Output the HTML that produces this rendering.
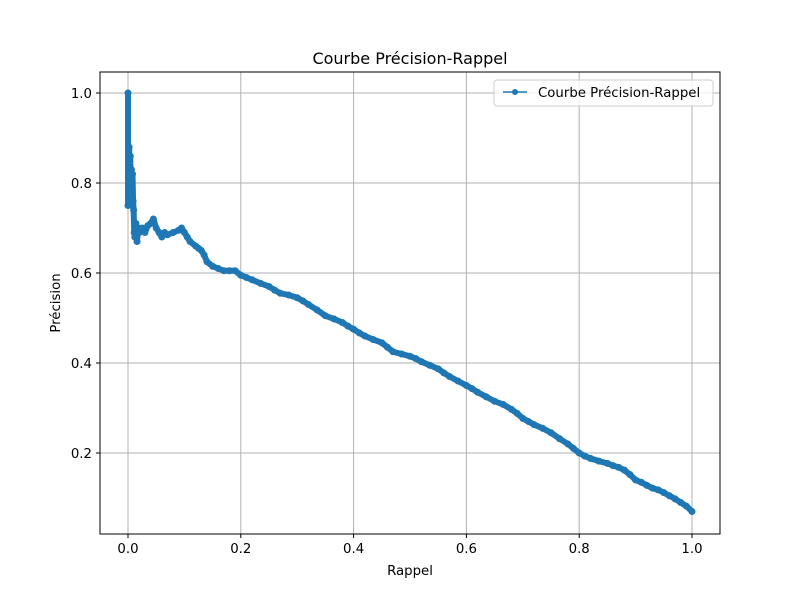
<!DOCTYPE html>
<html><head><meta charset="utf-8"><style>
body{margin:0;background:#fff;font-family:"Liberation Sans","DejaVu Sans",sans-serif}
text{font-family:"DejaVu Sans","Liberation Sans",sans-serif}
</style></head><body>
<svg id="chart" width="800" height="600" xmlns="http://www.w3.org/2000/svg">
<rect width="800" height="600" fill="#fff"/>
<g id="grid"></g><g id="ticks"></g><g id="series"></g>
<rect x="100" y="72" width="620" height="462" fill="none" stroke="#000" stroke-width="1"/>
<text x="410" y="64" font-size="16" text-anchor="middle">Courbe Précision-Rappel</text>
<text x="410" y="575" font-size="13.3" text-anchor="middle">Rappel</text>
<text x="0" y="0" font-size="13.3" text-anchor="middle" transform="translate(60,303) rotate(-90)">Précision</text>
<g>
<rect x="494" y="80" width="219" height="26" rx="3" fill="#fff" fill-opacity="0.8" stroke="#ccc"/>
<line x1="503" y1="92" x2="527" y2="92" stroke="#1f77b4" stroke-width="1.5"/>
<circle cx="515" cy="92" r="3" fill="#1f77b4"/>
<text x="538" y="97" font-size="13.3">Courbe Précision-Rappel</text>
</g>
</svg>
<script>
const recall=[0,0,0.002,0.003,0.004,0.005,0.006,0.007,0.008,0.009,0.01,0.011,0.012,0.014,0.016,0.018,0.02,0.025,0.03,0.035,0.04,0.045,0.05,0.055,0.06,0.065,0.07,0.08,0.09,0.095,0.1,0.105,0.11,0.12,0.125,0.13,0.135,0.14,0.15,0.16,0.17,0.18,0.19,0.2,0.21,0.22,0.235,0.25,0.26,0.27,0.285,0.3,0.31,0.32,0.335,0.35,0.365,0.38,0.39,0.4,0.41,0.42,0.435,0.45,0.46,0.47,0.485,0.5,0.51,0.52,0.535,0.55,0.56,0.57,0.585,0.6,0.61,0.62,0.635,0.65,0.665,0.68,0.69,0.7,0.71,0.72,0.735,0.75,0.765,0.78,0.79,0.8,0.81,0.82,0.835,0.85,0.86,0.87,0.88,0.89,0.9,0.91,0.92,0.93,0.94,0.95,0.96,0.97,0.98,0.99,1.0];
const precision=[1.0,0.75,0.88,0.8,0.86,0.78,0.83,0.75,0.82,0.76,0.74,0.69,0.68,0.71,0.67,0.7,0.69,0.7,0.69,0.705,0.71,0.72,0.7,0.69,0.68,0.69,0.685,0.69,0.695,0.7,0.69,0.68,0.67,0.66,0.655,0.65,0.64,0.625,0.615,0.61,0.605,0.605,0.605,0.595,0.59,0.585,0.577,0.57,0.562,0.555,0.551,0.545,0.538,0.53,0.518,0.505,0.498,0.49,0.482,0.475,0.467,0.46,0.452,0.445,0.435,0.425,0.42,0.415,0.41,0.403,0.395,0.387,0.378,0.37,0.36,0.35,0.343,0.335,0.325,0.315,0.308,0.297,0.288,0.277,0.27,0.263,0.255,0.245,0.232,0.22,0.21,0.2,0.193,0.188,0.182,0.177,0.172,0.168,0.162,0.152,0.14,0.135,0.128,0.122,0.118,0.112,0.105,0.098,0.09,0.082,0.07];
const xTicks=[0,0.2,0.4,0.6,0.8,1.0];
const yTicks=[0.2,0.4,0.6,0.8,1.0];
const xTickLabels=["0.0","0.2","0.4","0.6","0.8","1.0"];
const yTickLabels=["0.2","0.4","0.6","0.8","1.0"];
const NS="http://www.w3.org/2000/svg";
const X=v=>128+v*564, Y=v=>543-v*450;
function mk(tag,at,parent){const e=document.createElementNS(NS,tag);for(const k in at)e.setAttribute(k,at[k]);document.getElementById(parent).appendChild(e);return e;}
xTicks.forEach((t,i)=>{
 const g=mk('line',{x1:X(t),x2:X(t),y1:72,y2:534,stroke:'#b0b0b0','stroke-width':1},'grid');
 
 
 mk('line',{x1:X(t),x2:X(t),y1:534,y2:538,stroke:'#000'},'ticks');
 const tx=mk('text',{x:X(t),y:553,'font-size':13.3,'text-anchor':'middle'},'ticks');
 tx.textContent=xTickLabels[i];
 
 
});
yTicks.forEach((t,i)=>{
 const g=mk('line',{x1:100,x2:720,y1:Y(t),y2:Y(t),stroke:'#b0b0b0','stroke-width':1},'grid');
 
 
 mk('line',{x1:96,x2:100,y1:Y(t),y2:Y(t),stroke:'#000'},'ticks');
 const tx=mk('text',{x:92,y:Y(t)+5,'font-size':13.3,'text-anchor':'end'},'ticks');
 tx.textContent=yTickLabels[i];
 
 
});
const pts=recall.map((r,i)=>X(r)+','+Y(precision[i])).join(' ');
const pl=mk('polyline',{points:pts,fill:'none',stroke:'#1f77b4','stroke-width':6,'stroke-linejoin':'round','stroke-linecap':'round'},'series');


recall.forEach((r,i)=>{
 const c=mk('circle',{cx:X(r),cy:Y(precision[i]),r:3.5,fill:'#1f77b4'},'series');
 
 
});
</script>
</body></html>
